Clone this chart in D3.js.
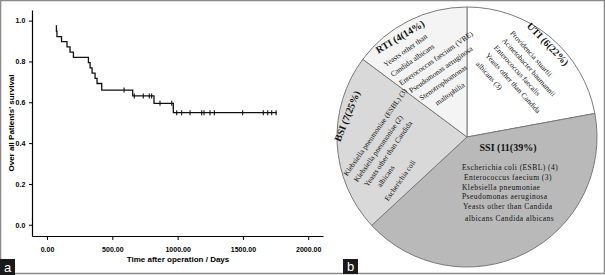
<!DOCTYPE html>
<html><head><meta charset="utf-8">
<script src="https://cdn.jsdelivr.net/npm/d3@7"></script>
<style>
html,body{margin:0;padding:0;background:#fff;}
svg{display:block;}
</style></head>
<body>
<svg id="c" width="605" height="275"></svg>
<script>
// ---------- DATA ----------
const kmTimes  = [67, 72, 76, 111, 153, 176, 202, 317, 330, 345, 368, 383, 419, 656, 819, 967, 1758];
const kmSurv   = [0.974, 0.948, 0.922, 0.897, 0.871, 0.846, 0.820, 0.794, 0.769, 0.743, 0.717, 0.692, 0.660, 0.631, 0.595, 0.549, 0.549];
const censorTimes = [590, 668, 737, 783, 801, 865, 955, 993, 1031, 1095, 1184, 1202, 1248, 1281, 1498, 1656, 1690, 1720, 1754];
const xTicks = [0, 500, 1000, 1500, 2000];
const yTicks = [0, 0.2, 0.4, 0.6, 0.8, 1.0];
const xTitle = "Time after operation / Days";
const yTitle = "Over all Patients' survival";

const pieCats   = ["UTI", "SSI", "BSI", "RTI"];
const pieCounts = [6, 11, 7, 4];
// slice shares as drawn in the picture (percent of the circle)
const pieShare  = [22.1, 41.0, 22.1, 14.8];
const pieColors = ["#ffffff", "#b9b9b9", "#d9d9d9", "#f4f4f4"];
const pieTitles = ["UTI (6(22%)", "SSI (11(39%)", "BSI (7(25%)", "RTI (4(14%)"];
const pieLines  = [
  ["Providencia stuartii", "Acinetobacter baumannii", "Enterococcus faecalis", "Yeasts other than Candida", "albicans (3)"],
  ["Escherichia coli (ESBL) (4)", "Enterococcus faecium (3)", "Klebsiella pneumoniae", "Pseudomonas aeruginosa", "Yeasts other than Candida", "albicans Candida albicans"],
  ["Klebsiella pneumoniae (ESBL) (3)", "Klebsiella pneumoniae (2)", "Yeasts other than Candida", "albicans", "Escherichia coli"],
  ["Yeasts other than", "Candida albicans", "Enterococcus faecium (VRE)", "Pseudomonas aeruginosa", "Stenotrophomonas", "maltophilia"]
];

// ---------- DRAW ----------
const svg = d3.select("#c");

svg.append("rect").attr("x",0.5).attr("y",0.5).attr("width",604).attr("height",273)
  .attr("fill","none").attr("stroke","#8a8a8a").attr("stroke-width",1.5);

// ---- panel a: KM curve ----
const x = d3.scaleLinear().domain([-115, 2113]).range([32, 323]);
const y = d3.scaleLinear().domain([-0.055, 1.052]).range([236, 10]);

const sansBold = "bold 7px 'Liberation Sans', Arial, sans-serif";

const gx = svg.append("g").attr("transform","translate(0,236)")
  .call(d3.axisBottom(x).tickValues(xTicks).tickFormat(d3.format(".2f")).tickSize(4).tickSizeOuter(0));
const gy = svg.append("g").attr("transform","translate(32,0)")
  .call(d3.axisLeft(y).tickValues(yTicks).tickFormat(d3.format(".1f")).tickSize(3).tickSizeOuter(0));
[gx, gy].forEach(g => {
  g.select(".domain").attr("stroke","#000").attr("stroke-width",1.2);
  g.selectAll(".tick line").attr("stroke","#000");
  g.selectAll(".tick text").attr("fill","#000").style("font", sansBold);
});
gx.selectAll(".tick text").attr("dy","1.25em");
gy.selectAll(".tick text").attr("dx","-0.1em");

svg.append("text").attr("x",178).attr("y",262).attr("text-anchor","middle")
  .style("font","bold 8px 'Liberation Sans', Arial, sans-serif").text(xTitle);
svg.append("text").attr("transform","translate(14,123) rotate(-90)").attr("text-anchor","middle")
  .style("font","bold 8px 'Liberation Sans', Arial, sans-serif").text(yTitle);

const kmData = kmTimes.map((t,i)=>({t, s:kmSurv[i]}));
const line = d3.line().x(d=>x(d.t)).y(d=>y(d.s)).curve(d3.curveStepAfter);
svg.append("path").datum(kmData).attr("d",line).attr("fill","none")
  .attr("stroke","#111").attr("stroke-width",1.3);

function survAt(t){ let s = kmSurv[0]; kmTimes.forEach((tt,i)=>{ if (tt<=t) s = kmSurv[i]; }); return s; }
svg.append("g").selectAll("line").data(censorTimes).join("line")
  .attr("x1",d=>x(d)).attr("x2",d=>x(d))
  .attr("y1",d=>y(survAt(d))-2.5).attr("y2",d=>y(survAt(d))+2.5)
  .attr("stroke","#111").attr("stroke-width",1.1);

svg.append("rect").attr("x",0).attr("y",259).attr("width",15).attr("height",16).attr("fill","#1a1a1a");
svg.append("text").attr("x",7.5).attr("y",272).attr("text-anchor","middle").attr("fill","#fff")
  .style("font","13px 'Liberation Sans', Arial, sans-serif").text("a");

// ---- panel b: pie ----
const cx = 467, cy = 137, R = 130;
const pie = d3.pie().sort(null).startAngle(0).endAngle(2*Math.PI);
const arcs = pie(pieShare);
const arc = d3.arc().innerRadius(0).outerRadius(R);
const gp = svg.append("g").attr("transform",`translate(${cx},${cy})`);
gp.selectAll("path").data(arcs).join("path").attr("d",arc)
  .attr("fill",(d,i)=>pieColors[i]).attr("stroke","#7a7a7a").attr("stroke-width",1);

const serif = "'Liberation Serif', 'Times New Roman', serif";
const layout = [
  {t:[548,44,46],  b:[511.7,31.7,48], step:[0,10.8,21.8,33.3,46], ind:[0,0,0,0,0], ls:0},
  {t:[508,147,0],  b:[462,167.3,0],   step:[0,10,20,29.5,39.5,51.5], ind:[0,2,0,0,1,3], ls:0.45},
  {t:[347,116,-68],b:[345,175,-55],   step:[0,12,23,34,48], ind:[0,1,3,10,3], ls:0},
  {t:[400,36.7,-31],b:[384.3,65,-35], step:[0,12,24,36,48,61], ind:[0,0,2,6,10,20], ls:0}
];
layout.forEach((L,i)=>{
  svg.append("text").attr("transform",`translate(${L.t[0]},${L.t[1]}) rotate(${L.t[2]})`)
    .attr("text-anchor","middle").attr("dy","0.35em")
    .style("font",`bold 10px ${serif}`).attr("fill","#111").text(pieTitles[i]);
  const g = svg.append("g").attr("transform",`translate(${L.b[0]},${L.b[1]}) rotate(${L.b[2]})`);
  g.selectAll("text").data(pieLines[i]).join("text")
    .attr("x",(d,j)=>L.ind[j]).attr("y",(d,j)=>L.step[j]).attr("dy","0.35em")
    .attr("text-anchor","start").style("letter-spacing",L.ls+"px")
    .style("font",`7.5px ${serif}`).attr("fill","#111").text(d=>d);
});

svg.append("rect").attr("x",343).attr("y",259).attr("width",15).attr("height",15).attr("fill","#1a1a1a");
svg.append("text").attr("x",350.5).attr("y",271).attr("text-anchor","middle").attr("fill","#fff")
  .style("font","13px 'Liberation Sans', Arial, sans-serif").text("b");
</script>
</body></html>
